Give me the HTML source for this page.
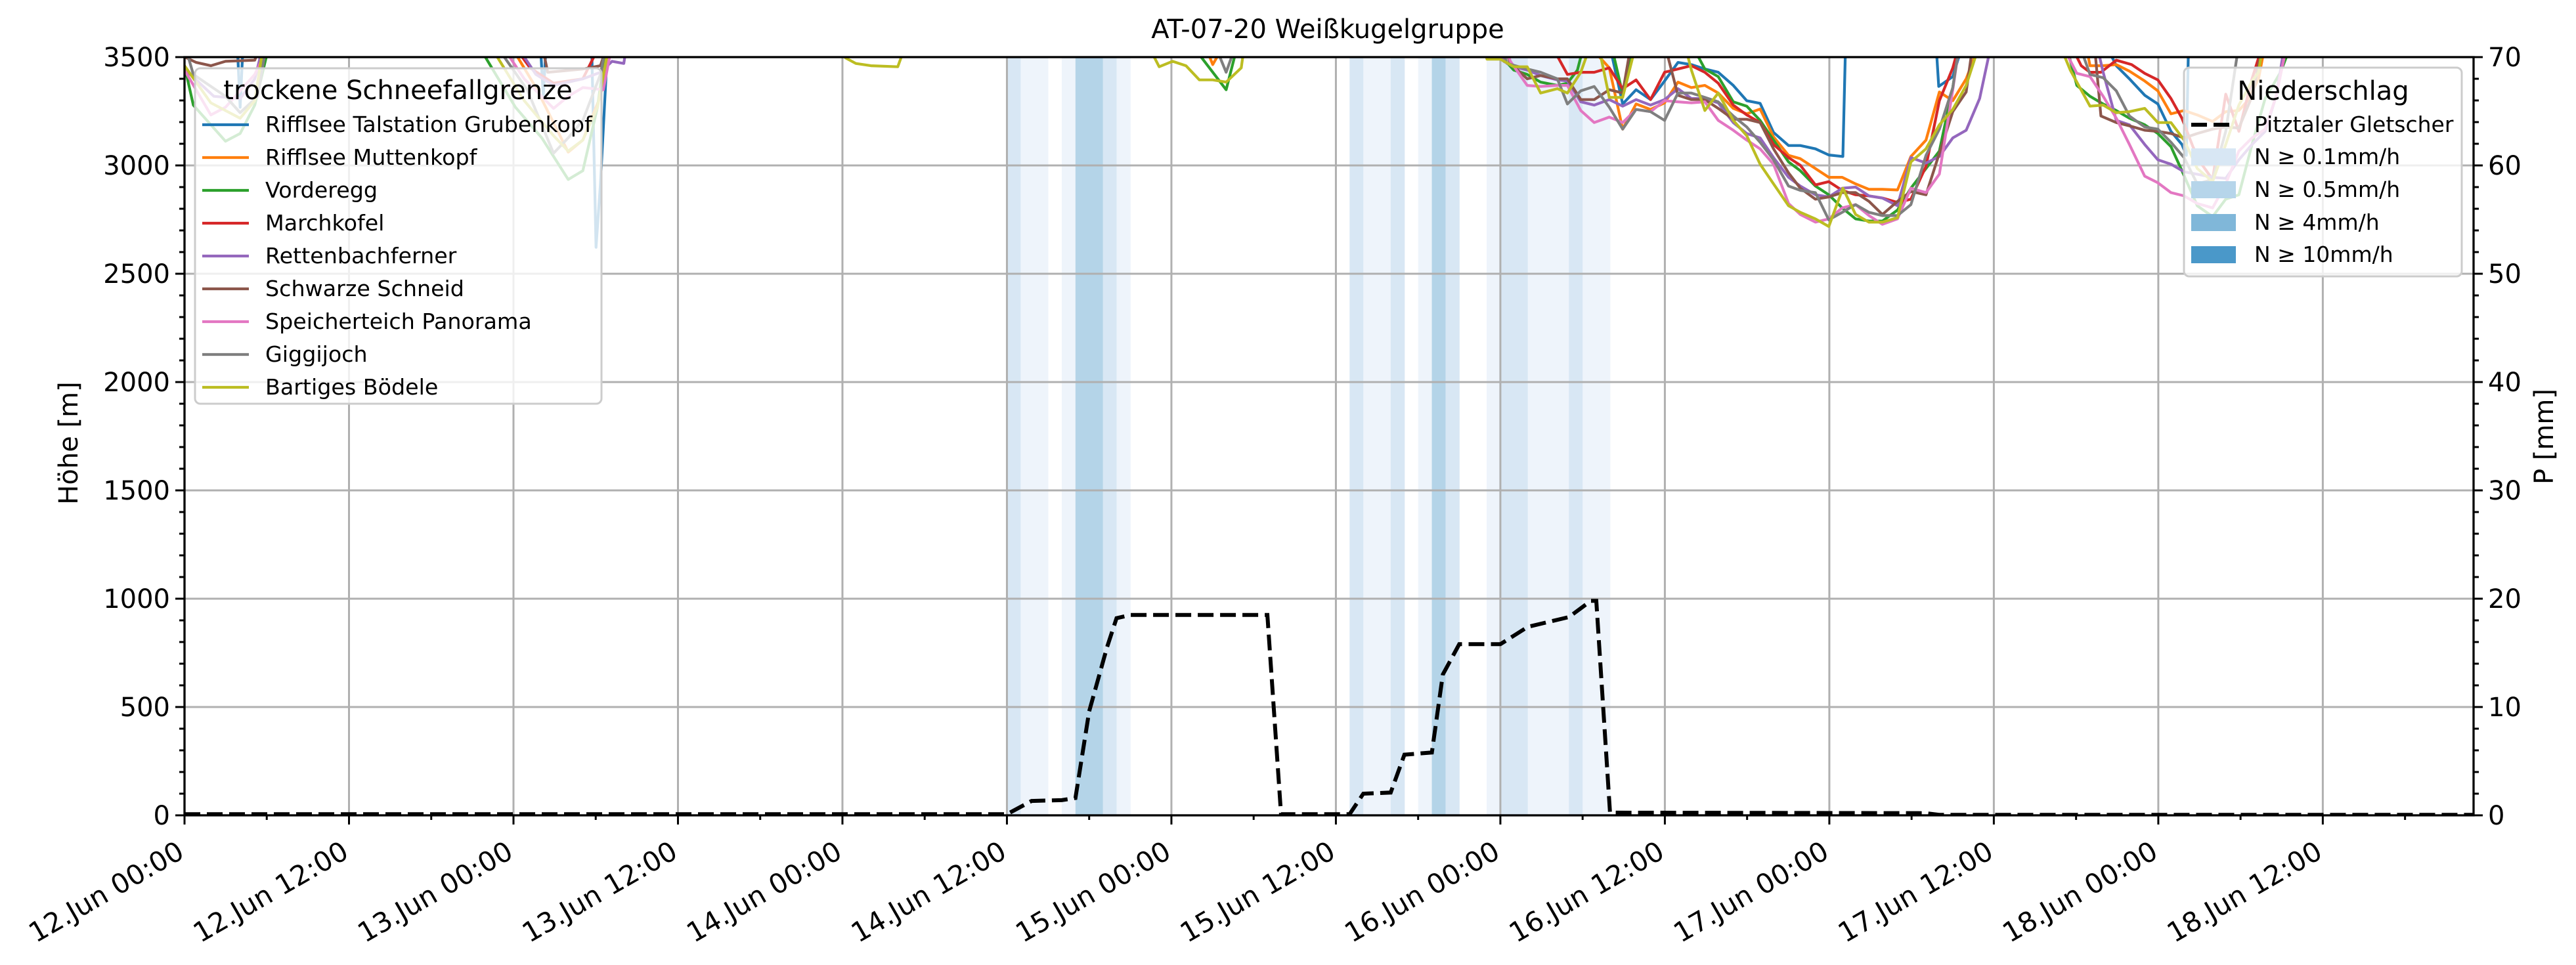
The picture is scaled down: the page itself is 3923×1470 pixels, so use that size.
<!DOCTYPE html>
<html><head><meta charset="utf-8"><style>
html,body{margin:0;padding:0;background:#fff;}
svg{display:block;font-family:"DejaVu Sans","Liberation Sans",sans-serif;}
</style></head><body>
<svg id="s" width="3923" height="1470" viewBox="0 0 3923 1470" xmlns="http://www.w3.org/2000/svg">
<defs><clipPath id="cp"><rect x="281" y="87" width="3486" height="1155"/></clipPath></defs>
<rect width="3923" height="1470" fill="#fff"/>
<g id="bands" clip-path="url(#cp)"></g>
<g id="grid" stroke="#b0b0b0" stroke-width="3"></g>
<g id="lines" clip-path="url(#cp)" fill="none" stroke-width="4.2" stroke-linejoin="round"></g>
<g id="prec" clip-path="url(#cp)" fill="none"></g>
<rect x="281" y="87" width="3486" height="1155" fill="none" stroke="#000" stroke-width="3.3"/>
<g id="ticks" stroke="#000" stroke-width="3"></g>
<g id="labels" font-size="40" fill="#000"></g>
<text x="2022" y="58" font-size="40" text-anchor="middle">AT-07-20 Weißkugelgruppe</text>
<text transform="translate(118,675) rotate(-90)" font-size="40" text-anchor="middle">Höhe [m]</text>
<text transform="translate(3888,665) rotate(-90)" font-size="40" text-anchor="middle">P [mm]</text>
<rect x="297" y="104" width="619" height="511" rx="8" fill="#fff" fill-opacity="0.8" stroke="#cccccc" stroke-width="3"/>
<text x="606" y="151" font-size="40" text-anchor="middle">trockene Schneefallgrenze</text>
<g id="leg1" font-size="33.3"></g>
<rect x="3326" y="103" width="423" height="318" rx="8" fill="#fff" fill-opacity="0.8" stroke="#cccccc" stroke-width="3"/>
<text x="3538" y="152" font-size="40" text-anchor="middle">Niederschlag</text>
<line x1="3337" y1="190" x2="3405" y2="190" stroke="#000" stroke-width="6" stroke-dasharray="24,10"/>
<text x="3433" y="201" font-size="33">Pitztaler Gletscher</text>
<rect x="3337" y="226" width="68" height="26" fill="#d8e7f4"/>
<text x="3433" y="250" font-size="33">N ≥ 0.1mm/h</text>
<rect x="3337" y="276" width="68" height="26" fill="#b6d5ea"/>
<text x="3433" y="300" font-size="33">N ≥ 0.5mm/h</text>
<rect x="3337" y="326" width="68" height="26" fill="#80b7d9"/>
<text x="3433" y="350" font-size="33">N ≥ 4mm/h</text>
<rect x="3337" y="375" width="68" height="26" fill="#4a98c9"/>
<text x="3433" y="399" font-size="33">N ≥ 10mm/h</text>
</svg>
<script>
var NS="http://www.w3.org/2000/svg";
function el(p,t,a,txt){var e=document.createElementNS(NS,t);for(var k in a)e.setAttribute(k,a[k]);if(txt!==undefined)e.textContent=txt;document.getElementById(p).appendChild(e);return e;}
var X0=281,X1=3767,Y0=87,Y1=1242,HP=(X1-X0)/167;
function px(h){return X0+h*HP;}
function py(v){return Y0+(3500-v)*(Y1-Y0)/3500;}
function pm(m){return Y1-m*(Y1-Y0)/70;}
var L="#eef4fb",M="#d8e7f4",D="#b4d4e8";
var bands=[[60,61,M],[61,63,L],[64,65,L],[65,67,D],[67,68,M],[68,69,L],[85,86,M],[86,88,L],[88,89,M],[90,91,L],[91,92,D],[92,93,M],[95,96,L],[96,98,M],[98,101,L],[101,102,M],[102,104,L]];
bands.forEach(function(b){el("bands","rect",{x:px(b[0]),y:Y0,width:px(b[1])-px(b[0])+0.5,height:Y1-Y0,fill:b[2]});});
var days=["12","12","13","13","14","14","15","15","16","16","17","17","18","18"];
for(var i=0;i<14;i++){var h=i*12,x=px(h);
 if(i>0)el("grid","line",{x1:x,y1:Y0,x2:x,y2:Y1});
 el("ticks","line",{x1:x,y1:Y1,x2:x,y2:Y1+14});
 var lab=days[i]+".Jun "+(i%2?"12:00":"00:00");
 el("labels","text",{"text-anchor":"end","font-size":"41.5",transform:"translate("+(x+2)+",1305) rotate(-30)"},lab);}
for(var h=6;h<167;h+=12){el("ticks","line",{x1:px(h),y1:Y1,x2:px(h),y2:Y1+7});}
for(var v=0;v<=3500;v+=500){var y=py(v);
 if(v>0&&v<3500)el("grid","line",{x1:X0,y1:y,x2:X1,y2:y});
 el("ticks","line",{x1:X0-14,y1:y,x2:X0,y2:y});
 el("ticks","line",{x1:X1,y1:y,x2:X1+14,y2:y});
 el("labels","text",{x:X0-22,y:y+14,"text-anchor":"end"},String(v));
 el("labels","text",{x:X1+22,y:y+14},String(v/50));}
for(var v=100;v<3500;v+=100){if(v%500)el("ticks","line",{x1:X0-8,y1:py(v),x2:X0,y2:py(v)});}
for(var m=2;m<70;m+=2){if(m%10)el("ticks","line",{x1:X1,y1:pm(m),x2:X1+8,y2:pm(m)});}
function vz(zy){return 3521-1.01*zy;}
var C={
 a:function(p){return [p[0]/46.8,vz(p[1])];},
 b:function(p){return [48+(p[0]-160)/40.9,vz(p[1])];},
 c:function(p){return [96+(p[0]-70)/40.9,vz(p[1])];},
 d:function(p){return [144+(p[0]-562)/62.6,vz(p[1])];}
};
var S=[
["#1f77b4",[["a",[[180,-40],[190,250],[200,-40],[1215,-40],[1225,200],[1235,-40],[1390,-40],[1405,890],[1420,600],[1445,-40]]],
 ["c",[[395,-40],[435,235],[475,170],[518,215],[560,130],[600,45],[640,55],[680,75],[720,90],[765,150],[805,220],[845,232],[885,365],[930,425],[965,425],[1010,440],[1050,468],[1092,475],[1100,-40],[1370,-40],[1378,155],[1420,110],[1450,-40]]],
 ["d",[[320,-40],[370,60],[430,120],[500,195],[560,235],[620,360],[670,420],[690,470],[700,-40]]]]],
["#ff7f0e",[["a",[[1110,-40],[1200,160],[1310,455],[1360,400],[1420,200],[1450,-40]]],["b",[[1240,-40],[1265,55],[1300,-40]]],
 ["c",[[330,-40],[395,70],[435,350],[475,235],[518,260],[560,230],[600,135],[640,160],[680,150],[720,185],[765,255],[805,280],[845,258],[885,385],[930,470],[965,485],[1010,530],[1050,570],[1090,570],[1130,600],[1170,625],[1210,625],[1255,628],[1295,475],[1340,400],[1380,180],[1420,220],[1460,120],[1500,-40]]],
 ["d",[[230,-40],[250,60],[310,60],[370,55],[430,85],[500,130],[560,175],[620,280],[680,265],[740,285],[810,315],[870,270],[930,265],[970,220],[1020,120],[1050,-40]]]]],
["#2ca02c",[["a",[[0,60],[30,240],[140,405],[190,370],[240,240],[290,-40],[1000,-40],[1130,250],[1220,390],[1310,580],[1360,540],[1410,250],[1440,-40]]],["b",[[1200,-40],[1305,170],[1340,-40]]],
 ["c",[[60,-40],[80,30],[110,80],[150,100],[190,135],[240,150],[270,140],[300,80],[320,-40],[400,-40],[435,190],[465,-40],[640,-40],[680,75],[720,110],[765,225],[805,245],[845,310],[885,400],[930,500],[965,540],[1010,610],[1050,650],[1090,710],[1130,760],[1170,770],[1210,770],[1255,720],[1295,620],[1340,530],[1380,450],[1420,160],[1440,-40]]],
 ["d",[[140,-40],[190,150],[250,200],[310,235],[370,265],[430,300],[500,330],[560,370],[620,430],[670,540],[740,700],[810,750],[870,670],[930,650],[990,420],[1050,210],[1120,90],[1170,-40]]]]],
["#d62728",[["a",[[1120,-40],[1180,70],[1260,140],[1360,120],[1420,-40]]],
 ["c",[[220,-40],[270,100],[310,90],[350,90],[395,70],[435,165],[475,125],[518,215],[560,90],[600,75],[640,60],[680,90],[720,140],[765,240],[805,285],[845,320],[885,420],[930,480],[965,515],[1010,605],[1050,590],[1090,630],[1130,650],[1170,655],[1210,665],[1255,685],[1295,670],[1340,520],[1380,220],[1420,70],[1440,-40]]],
 ["d",[[160,-40],[210,60],[250,90],[300,90],[370,35],[440,55],[500,95],[560,125],[620,210],[670,300],[720,430],[760,510],[810,580],[870,190],[930,360],[990,120],[1040,-40]]]]],
["#9467bd",[["a",[[0,80],[20,100],[100,200],[190,210],[240,120],[270,-40],[1130,-40],[1200,100],[1260,150],[1360,120],[1420,90],[1460,40],[1500,50],[1510,-40]]],
 ["c",[[60,-40],[80,40],[110,65],[150,80],[190,105],[240,125],[270,130],[310,225],[350,240],[395,215],[435,245],[475,215],[518,240],[560,215],[600,165],[640,210],[680,210],[720,230],[765,320],[805,370],[845,390],[885,480],[930,570],[965,610],[1010,650],[1050,660],[1090,620],[1130,615],[1170,655],[1210,665],[1255,700],[1295,480],[1340,505],[1380,475],[1420,390],[1460,355],[1500,210],[1535,-40]]],
 ["d",[[280,-40],[310,90],[370,310],[430,330],[500,420],[560,490],[620,510],[680,545],[760,560],[810,570],[870,575],[930,490],[990,420],[1050,360],[1100,200],[1140,-40]]]]],
["#8c564b",[["a",[[0,20],[40,45],[90,60],[140,40],[240,35],[260,-40],[1220,-40],[1240,90],[1360,75],[1420,60],[1445,-40]]],
 ["c",[[80,-40],[100,50],[150,120],[190,105],[240,120],[270,120],[310,215],[350,215],[395,170],[435,185],[460,-40],[560,-40],[600,195],[640,215],[680,215],[720,255],[765,305],[805,305],[845,320],[885,440],[930,550],[965,620],[1010,670],[1050,660],[1090,640],[1130,640],[1170,680],[1210,740],[1255,680],[1295,635],[1340,650],[1380,460],[1420,270],[1460,180],[1480,-40]]],
 ["d",[[270,-40],[300,290],[370,320],[430,335],[500,355],[560,360],[620,370],[680,390],[740,370],[810,350],[870,340],[930,345],[990,200],[1040,-40]]]]],
["#e377c2",[["a",[[0,80],[90,285],[140,250],[240,100],[290,-40],[1080,-40],[1160,120],[1260,255],[1310,200],[1360,160],[1430,170],[1460,-40]]],
 ["c",[[80,-40],[100,40],[150,150],[190,155],[240,150],[270,150],[310,265],[350,320],[395,295],[435,320],[475,260],[518,270],[560,220],[600,225],[640,230],[680,225],[720,310],[765,355],[805,400],[845,440],[885,510],[930,690],[965,740],[1010,775],[1050,760],[1090,710],[1130,695],[1170,745],[1210,785],[1255,760],[1295,620],[1340,640],[1380,555],[1420,170],[1440,-40]]],
 ["d",[[120,-40],[190,95],[250,110],[310,200],[370,300],[430,420],[500,565],[560,595],[620,640],[680,655],[740,690],[810,710],[870,600],[930,450],[990,390],[1050,350],[1100,200],[1150,-40]]]]],
["#7f7f7f",[["a",[[0,-40],[30,100],[140,200],[190,275],[250,200],[280,-40],[1060,-40],[1170,170],[1260,460],[1310,390],[1360,310],[1420,100],[1440,-40]]],["b",[[1270,-40],[1305,90],[1335,-40]]],
 ["c",[[70,-40],[90,50],[150,75],[190,90],[240,120],[270,235],[310,175],[350,155],[395,250],[435,350],[475,260],[518,270],[560,310],[600,185],[640,185],[680,205],[720,225],[765,290],[805,340],[845,410],[885,490],[930,610],[965,630],[1010,640],[1050,765],[1090,730],[1130,695],[1170,730],[1210,745],[1255,745],[1295,695],[1340,470],[1380,350],[1420,160],[1440,-40]]],
 ["d",[[200,-40],[250,100],[310,115],[370,175],[430,290],[500,340],[560,350],[620,410],[680,480],[740,600],[810,580],[870,360],[930,-40]]]]],
["#bcbd22",[["a",[[0,60],[90,230],[190,300],[240,220],[270,-40],[1040,-40],[1160,220],[1260,380],[1310,450],[1360,400],[1410,250],[1450,-40]]],
 ["b",[[120,-40],[170,25],[200,50],[245,60],[325,65],[350,-40],[1070,-40],[1105,65],[1145,40],[1185,60],[1225,125],[1265,125],[1305,135],[1350,70],[1360,-40]]],
 ["c",[[20,-40],[30,30],[70,30],[110,65],[150,65],[190,185],[240,165],[270,185],[310,90],[340,-40],[370,20],[395,205],[435,205],[475,-40],[620,-40],[640,80],[680,265],[720,185],[765,310],[805,380],[845,510],[885,600],[930,700],[965,730],[1010,760],[1050,795],[1092,620],[1130,740],[1170,775],[1210,775],[1255,755],[1295,500],[1340,440],[1380,330],[1420,260],[1460,150],[1500,-40]]],
 ["d",[[110,-40],[160,80],[250,245],[310,240],[370,275],[430,270],[500,255],[560,320],[620,320],[680,400],[740,530],[810,590],[870,420],[930,240],[990,130],[1020,90],[1040,-40]]]]]
];
S.forEach(function(s){var pts=[];s[1].forEach(function(seg){seg[1].forEach(function(p){var q=C[seg[0]](p);pts.push(px(q[0]).toFixed(1)+","+py(q[1]).toFixed(1));});});
 el("lines","polyline",{points:pts.join(" "),stroke:s[0]});});
var P=[[0,0.1],[60,0.1],[61.8,1.33],[64,1.4],[65,1.6],[66,9.6],[67.3,15.5],[68,18.2],[69,18.5],[79,18.5],[80,0.1],[85,0.1],[86,2.0],[88,2.1],[89,5.6],[91,5.8],[91.8,13],[93,15.8],[96,15.8],[97,16.6],[98,17.4],[101,18.3],[102.6,19.8],[103,19.8],[104,0.25],[127,0.2],[128,0.05],[167,0.05]];
el("prec","polyline",{points:P.map(function(p){return px(p[0]).toFixed(1)+","+pm(p[1]).toFixed(1);}).join(" "),stroke:"#000","stroke-width":6,"stroke-dasharray":"24,10"});
var names=["Rifflsee Talstation Grubenkopf","Rifflsee Muttenkopf","Vorderegg","Marchkofel","Rettenbachferner","Schwarze Schneid","Speicherteich Panorama","Giggijoch","Bartiges Bödele"];
names.forEach(function(n,i){var y=190+i*50;el("leg1","line",{x1:308,y1:y,x2:379,y2:y,stroke:S[i][0],"stroke-width":4.2});el("leg1","text",{x:404,y:y+11},n);});
</script>
</body></html>
